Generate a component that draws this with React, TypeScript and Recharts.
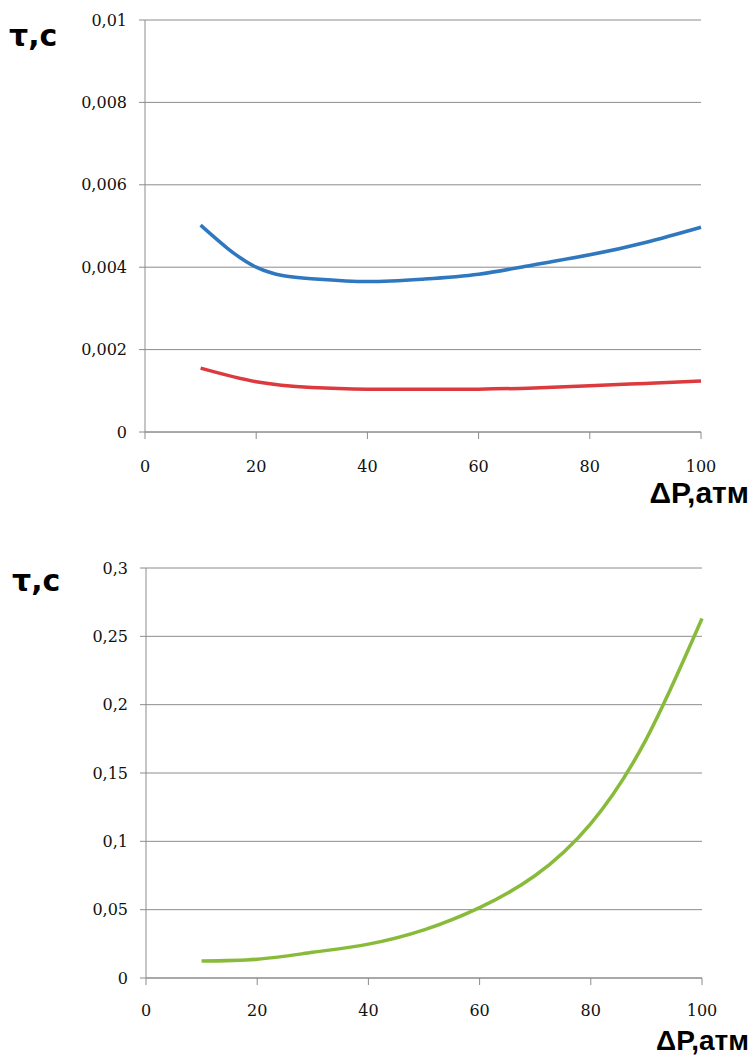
import React from 'react';
import { LineChart, Line, XAxis, YAxis, CartesianGrid } from 'recharts';

// ΔP, атм
const pressure = [10, 20, 30, 40, 50, 60, 70, 80, 90, 100];

// upper chart, τ in seconds
const tauBlue = [0.00502, 0.004, 0.00372, 0.00365, 0.00371, 0.00383, 0.00406, 0.0043, 0.0046, 0.00497];
const tauRed = [0.00155, 0.00122, 0.00108, 0.00104, 0.00104, 0.00104, 0.00107, 0.00112, 0.00118, 0.00124];

// lower chart
const tauGreen = [0.0125, 0.0137, 0.0188, 0.0248, 0.0352, 0.0515, 0.075, 0.113, 0.175, 0.263];

const xTicks = [0, 20, 40, 60, 80, 100];
const yTicksTop = [0, 0.002, 0.004, 0.006, 0.008, 0.01];
const yTicksBottom = [0, 0.05, 0.1, 0.15, 0.2, 0.25, 0.3];

const topData = pressure.map((p, i) => ({ p, blue: tauBlue[i], red: tauRed[i] }));
const bottomData = pressure.map((p, i) => ({ p, green: tauGreen[i] }));

const axisGray = '#8c8c8c';
const tickStyle = { fill: '#111', fontSize: 16, fontFamily: '"DejaVu Serif", serif' };
const fmt = (v: number) => (v === 0 ? '0' : String(v).replace('.', ','));

const App: React.FC = () => {
  return (
    <div style={{ position: 'absolute', left: 0, top: 0, width: 752, height: 1056, background: '#fff' }}>
      <div style={{ position: 'absolute', left: 0, top: 0 }}>
        <LineChart width={752} height={520} data={topData} margin={{ top: 20, right: 51, bottom: 58, left: 0 }}>
          <CartesianGrid vertical={false} stroke={axisGray} />
          <XAxis
            dataKey="p"
            type="number"
            domain={[0, 100]}
            ticks={xTicks}
            height={30}
            stroke={axisGray}
            tickSize={7}
            tickMargin={22}
            tick={tickStyle}
          />
          <YAxis
            type="number"
            domain={[0, 0.01]}
            ticks={yTicksTop}
            width={145}
            stroke={axisGray}
            tickSize={6}
            tickMargin={12}
            tick={tickStyle}
            tickFormatter={fmt}
          />
          <Line type="natural" dataKey="blue" stroke="#2f78bf" strokeWidth={3.5} dot={false} isAnimationActive={false} />
          <Line type="natural" dataKey="red" stroke="#dc3a3e" strokeWidth={3.5} dot={false} isAnimationActive={false} />
        </LineChart>
      </div>
      <div style={{ position: 'absolute', left: 0, top: 528 }}>
        <LineChart width={752} height={528} data={bottomData} margin={{ top: 40, right: 50, bottom: 48, left: 0 }}>
          <CartesianGrid vertical={false} stroke={axisGray} />
          <XAxis
            dataKey="p"
            type="number"
            domain={[0, 100]}
            ticks={xTicks}
            height={30}
            stroke={axisGray}
            tickSize={7}
            tickMargin={20}
            tick={tickStyle}
          />
          <YAxis
            type="number"
            domain={[0, 0.3]}
            ticks={yTicksBottom}
            width={146}
            stroke={axisGray}
            tickSize={6}
            tickMargin={12}
            tick={tickStyle}
            tickFormatter={fmt}
          />
          <Line type="natural" dataKey="green" stroke="#88bb3a" strokeWidth={3.5} dot={false} isAnimationActive={false} />
        </LineChart>
      </div>
      {/* axis titles */}
      <svg width={752} height={1056} style={{ position: 'absolute', left: 0, top: 0, pointerEvents: 'none' }}>
        <g fontWeight="bold" fill="#000">
          <text x={9} y={46} fontSize={30} fontFamily='"DejaVu Sans", sans-serif'>τ,с</text>
          <text x={12} y={591} fontSize={30} fontFamily='"DejaVu Sans", sans-serif'>τ,с</text>
          <text x={749} y={503} fontSize={30} textAnchor="end" fontFamily='"Liberation Sans", Arial, sans-serif'>ΔP,атм</text>
          <text x={749} y={1050} fontSize={28} textAnchor="end" fontFamily='"Liberation Sans", Arial, sans-serif'>ΔP,атм</text>
        </g>
      </svg>
    </div>
  );
};

export default App;
